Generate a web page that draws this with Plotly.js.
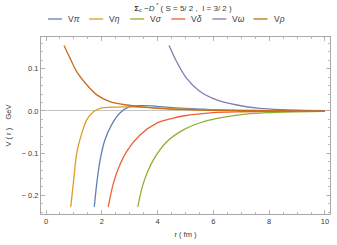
<!DOCTYPE html>
<html>
<head>
<meta charset="utf-8">
<script src="https://cdn.plot.ly/plotly-3.0.1.min.js"></script>
<style>html,body{margin:0;padding:0;background:#fff;}#chart{width:337px;height:245px;}</style>
</head>
<body>
<div id="chart"></div>
<script>
// ---- data ----
const seriesNames = ["Vπ", "Vη", "Vσ", "Vδ", "Vω", "Vρ"];
const seriesColors = ["#5E81B5", "#E19C24", "#8FB032", "#EB6235", "#8778B3", "#C56E1A"];

const rPi  = [1.73, 1.82, 1.94, 2.11, 2.35, 2.65, 3.0, 3.4, 3.8, 4.3, 5.0, 5.5, 6.0, 7.0, 8.0, 9.0, 10.0];
const vPi  = [-0.227, -0.171, -0.116, -0.069, -0.033, -0.005, 0.010, 0.0125, 0.012, 0.009, 0.006, 0.0045, 0.003, 0.0015, 0.0007, 0.0003, 0.0001];

const rEta = [0.885, 0.98, 1.10, 1.28, 1.46, 1.70, 1.94, 2.4, 2.8, 3.3, 4.0, 5.0, 6.0, 7.0, 8.0, 10.0];
const vEta = [-0.227, -0.171, -0.100, -0.053, -0.021, -0.002, 0.006, 0.009, 0.0095, 0.009, 0.007, 0.004, 0.002, 0.001, 0.0005, 0.0001];

const rSig = [3.29, 3.49, 3.85, 4.33, 4.92, 5.52, 6.18, 7.07, 7.91, 9.0, 10.0];
const vSig = [-0.227, -0.171, -0.116, -0.073, -0.045, -0.028, -0.017, -0.008, -0.004, -0.002, -0.001];

const rDel = [2.23, 2.4, 2.6, 2.9, 3.37, 3.97, 4.5, 4.92, 6.0, 7.0, 8.0, 9.0, 10.0];
const vDel = [-0.227, -0.175, -0.135, -0.095, -0.057, -0.029, -0.018, -0.012, -0.004, -0.002, -0.001, -0.0005, -0.0002];

const rOme = [4.41, 4.68, 5.04, 5.52, 6.12, 6.84, 7.67, 8.5, 9.3, 10.0];
const vOme = [0.155, 0.117, 0.077, 0.046, 0.026, 0.014, 0.006, 0.003, 0.0015, 0.0008];

const rRho = [0.645, 0.86, 1.10, 1.46, 1.82, 2.29, 2.89, 3.37, 4.0, 5.0, 6.0, 7.0, 8.0, 10.0];
const vRho = [0.155, 0.125, 0.093, 0.062, 0.038, 0.022, 0.014, 0.010, 0.006, 0.003, 0.0015, 0.0007, 0.0003, 0.0001];

const yTickVals = [-0.2, -0.1, 0.0, 0.1];
const yTickText = ["− 0.2", "− 0.1", "0.0", "0.1"];
const xTickVals = [0, 2, 4, 6, 8, 10];
const xTickText = ["0", "2", "4", "6", "8", "10"];

// ---- build figure ----
const rs = [rPi, rEta, rSig, rDel, rOme, rRho];
const vs = [vPi, vEta, vSig, vDel, vOme, vRho];

const traces = seriesNames.map((n, i) => ({
  type: "scatter", mode: "lines", name: n,
  x: rs[i], y: vs[i],
  line: {color: seriesColors[i], width: 1.3, shape: "spline", smoothing: 0.8},
  showlegend: false, hoverinfo: "skip"
}));

const W = 337, H = 245;
const M = {l: 41, r: 7, t: 37, b: 31};
const pw = W - M.l - M.r, ph = H - M.t - M.b;
const px2x = p => (p - M.l) / pw;
const py2y = p => (H - M.b - p) / ph;

const font = "Liberation Sans, Arial, sans-serif";
const txtColor = "#3a3a3a";

// custom legend (short swatches like the reference)
const shapes = [];
const annotations = [];
const legStart = 48, legPitch = 41.1, legY = 19;
seriesNames.forEach((n, i) => {
  const x0 = legStart + i * legPitch;
  shapes.push({type: "line", xref: "paper", yref: "paper",
    x0: px2x(x0), x1: px2x(x0 + 14), y0: py2y(legY), y1: py2y(legY),
    line: {color: seriesColors[i], width: 1.3}});
  annotations.push({xref: "paper", yref: "paper", x: px2x(x0 + 18), y: py2y(legY),
    xanchor: "left", yanchor: "middle", showarrow: false,
    text: "V<i>" + n.slice(1) + "</i>",
    font: {family: font, size: 8.5, color: txtColor}});
});

const axisCommon = {
  showgrid: false, showline: true, linecolor: "#a8a8a8", linewidth: 1,
  mirror: "allticks", ticks: "inside", ticklen: 4, tickcolor: "#a8a8a8", tickwidth: 0.8,
  tickfont: {family: font, size: 7.5, color: txtColor},
};

const layout = {
  width: W, height: H,
  margin: M,
  paper_bgcolor: "#fff", plot_bgcolor: "#fff",
  title: {
    text: "<b>Σ</b><sub>c</sub> −<i>D</i><sup> *</sup> ( S = 5/ 2 ,  I = 3/ 2 )",
    font: {family: font, size: 8, color: txtColor},
    x: px2x(183), xref: "paper", xanchor: "center",
    y: 1 - 8 / H, yref: "container", yanchor: "middle"
  },
  xaxis: Object.assign({}, axisCommon, {
    range: [-0.18, 10.18], zeroline: false,
    tickvals: xTickVals, ticktext: xTickText,
    minor: {dtick: 0.5, tick0: 0, ticks: "inside", ticklen: 2, tickcolor: "#a8a8a8", tickwidth: 0.8},
    title: {text: "r ( fm )", font: {family: font, size: 7.5, color: txtColor}, standoff: 6}
  }),
  yaxis: Object.assign({}, axisCommon, {
    range: [-0.244, 0.175], zeroline: true, zerolinecolor: "#c4c4c4", zerolinewidth: 1,
    tickvals: yTickVals, ticktext: yTickText,
    minor: {dtick: 0.02, tick0: 0, ticks: "inside", ticklen: 2, tickcolor: "#a8a8a8", tickwidth: 0.8},
    title: {text: "V ( r )    GeV", font: {family: font, size: 7.5, color: txtColor}, standoff: 8}
  }),
  shapes: shapes,
  annotations: annotations,
  showlegend: false
};

Plotly.newPlot("chart", traces, layout, {staticPlot: true, displayModeBar: false});
</script>
</body>
</html>
